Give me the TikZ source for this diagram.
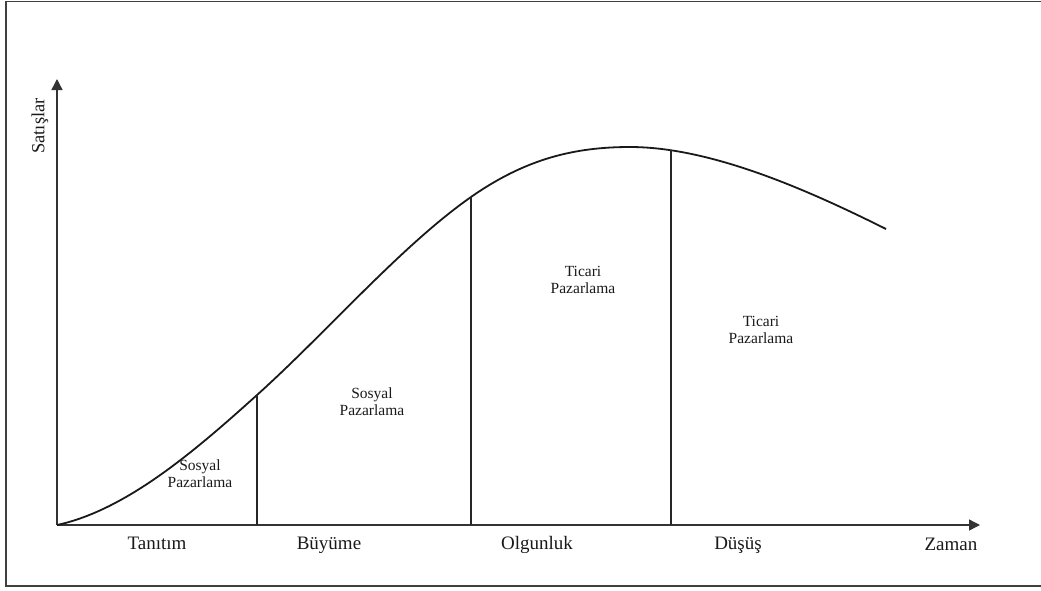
\documentclass[tikz,border=0pt]{standalone}
\usepackage{fontspec}
\setmainfont{Liberation Serif}
\usetikzlibrary{arrows.meta}
\begin{document}
\begin{tikzpicture}[x=1pt,y=-1pt,
  frame/.style={draw=black!75,line width=1.6pt},
  axis/.style={draw=black!80,line width=1.4pt,-{Triangle[length=11pt,width=11pt]}},
  divider/.style={draw=black!85,line width=1.4pt},
  curve/.style={draw=black!90,line width=1.8pt},
  phase/.style={font=\fontsize{19}{21}\selectfont,text=black!90,anchor=base,inner sep=0pt},
  tool/.style={font=\fontsize{15.5}{16.5}\selectfont,text=black!90,align=center,inner sep=0pt,anchor=base}]
\useasboundingbox (0,0) rectangle (1041,590);
\draw[frame] (6,1.5) rectangle (1042,586);
% axes
\coordinate (o) at (57,525);
\coordinate (ytip) at (57,79);
\coordinate (xtip) at (980,525);
\draw[axis] (o) -- (ytip);
\draw[axis] (o) -- (xtip);
% curve
\coordinate (c1) at (257,395);
\coordinate (c2) at (471,197);
\coordinate (peak) at (630,147);
\coordinate (c3) at (671,149.5);
\coordinate (cend) at (886,229);
\draw[curve] (o) .. controls (127,510) and (197,449) .. (c1)
  .. controls (327,332) and (401,246) .. (c2)
  .. controls (526,158.5) and (575,147) .. (peak)
  .. controls (710,147) and (806,189) .. (cend);
% dividers
\coordinate (b1) at (257,525);
\coordinate (b2) at (471,525);
\coordinate (b3) at (671,525);
\draw[divider] (b1) -- (c1);
\draw[divider] (b2) -- (c2);
\draw[divider] (b3) -- (c3);
% labels
\node[phase] (tan) at (157,549) {Tanıtım};
\node[phase] (buy) at (329,549) {Büyüme};
\node[phase] (olg) at (537,549) {Olgunluk};
\node[phase] (dus) at (738,549) {Düşüş};
\node[phase] (zam) at (951,550) {Zaman};
\node[font=\fontsize{18.5}{20}\selectfont,text=black!90,rotate=90,inner sep=0pt] (sat) at (40,126) {Satışlar};
\node[tool] (s1) at (200,487) {Sosyal\\Pazarlama};
\node[tool] (s2) at (372,415) {Sosyal\\Pazarlama};
\node[tool] (t1) at (583,293) {Ticari\\Pazarlama};
\node[tool] (t2) at (761,343) {Ticari\\Pazarlama};
\end{tikzpicture}
\end{document}
